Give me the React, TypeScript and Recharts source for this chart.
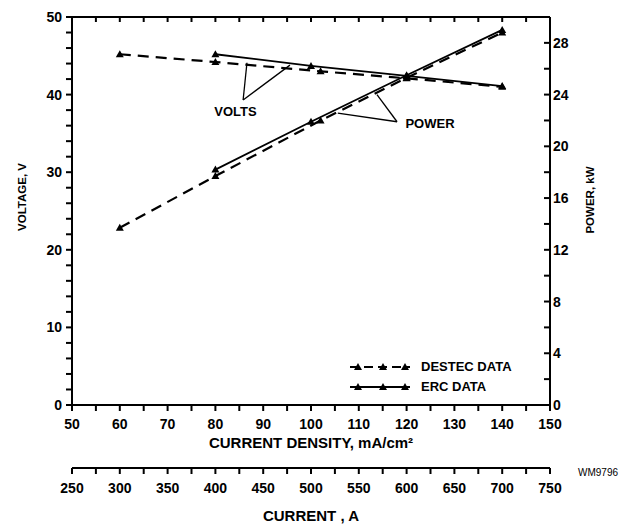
import { LineChart, Line, XAxis, YAxis, ReferenceLine, ReferenceDot, Legend } from "recharts";

const FONT = "'Liberation Sans', Arial, sans-serif";

// axis ticks
const densityTicks = [50, 55, 60, 65, 70, 75, 80, 85, 90, 95, 100, 105, 110, 115, 120, 125, 130, 135, 140, 145, 150];
const densityLabels = [50, 60, 70, 80, 90, 100, 110, 120, 130, 140, 150];
const currentTicks = [250, 275, 300, 325, 350, 375, 400, 425, 450, 475, 500, 525, 550, 575, 600, 625, 650, 675, 700, 725, 750];
const currentLabels = [250, 300, 350, 400, 450, 500, 550, 600, 650, 700, 750];
const voltTicks = [0, 2, 4, 6, 8, 10, 12, 14, 16, 18, 20, 22, 24, 26, 28, 30, 32, 34, 36, 38, 40, 42, 44, 46, 48, 50];
const voltLabels = [0, 10, 20, 30, 40, 50];
const powerTicks = [0, 2, 4, 6, 8, 10, 12, 14, 16, 18, 20, 22, 24, 26, 28];
const powerLabels = [0, 4, 8, 12, 16, 20, 24, 28];

// series (x = current density mA/cm2)
const destecVolts = [
  { x: 60, y: 45.2 },
  { x: 80, y: 44.2 },
  { x: 102, y: 43.0 },
  { x: 120, y: 42.1 },
  { x: 140, y: 41.0 },
];
const ercVolts = [
  { x: 80, y: 45.2 },
  { x: 100, y: 43.7 },
  { x: 120, y: 42.4 },
  { x: 140, y: 41.1 },
];
const destecPower = [
  { x: 60, y: 13.7 },
  { x: 80, y: 17.7 },
  { x: 102, y: 22.0 },
  { x: 120, y: 25.3 },
  { x: 140, y: 28.8 },
];
const ercPower = [
  { x: 80, y: 18.2 },
  { x: 100, y: 21.9 },
  { x: 120, y: 25.5 },
  { x: 140, y: 29.0 },
];

// annotation leaders, in density / volts units
const voltsNote = { x: 84.2, y: 37.9, text: "VOLTS" };
const voltsLeaders = [
  [{ x: 85.8, y: 39.3 }, { x: 86.6, y: 44.1 }],
  [{ x: 85.8, y: 39.3 }, { x: 95.6, y: 43.8 }],
];
const powerNote = { x: 124.9, y: 36.3, text: "POWER" };
const powerLeaders = [
  [{ x: 118.0, y: 36.5 }, { x: 105.6, y: 37.6 }],
  [{ x: 118.0, y: 36.5 }, { x: 113.8, y: 40.0 }],
];

const legendItems = [
  { name: "DESTEC DATA", dash: "9 5" },
  { name: "ERC DATA", dash: undefined },
];

const tri = (cx: number, cy: number) =>
  `M${cx},${cy - 4} L${cx + 4},${cy + 3} L${cx - 4},${cy + 3} Z`;

const Triangle = (props: any) => {
  const { cx, cy } = props;
  if (cx == null || cy == null) return null;
  return <path d={tri(cx, cy)} fill="#000" />;
};

const only = (list: number[]) => (v: number) => (list.includes(v) ? String(v) : "");

// inward tick marks on the top edge, drawn by the axis tick renderer
const TopTick = (props: any) => {
  const { x, y } = props;
  return <line x1={x} x2={x} y1={y} y2={y + 5} stroke="#000" strokeWidth={2} />;
};
// right edge: inward mark plus label outside
const RightTick = (props: any) => {
  const { x, y, payload } = props;
  const show = powerLabels.includes(payload.value);
  return (
    <g>
      <line x1={x} x2={x - 6} y1={y} y2={y} stroke="#000" strokeWidth={2} />
      {show && (
        <text x={x + 3} y={y} dy="0.355em" textAnchor="start" fontSize={14} fontWeight="bold" fill="#000" fontFamily={FONT}>
          {payload.value}
        </text>
      )}
    </g>
  );
};

const tickStyle = { fontSize: 14, fontWeight: "bold", fill: "#000", fontFamily: FONT };
const axisStroke = { stroke: "#000", strokeWidth: 2 };
const tickStroke = { stroke: "#000", strokeWidth: 2 };
const titleStyle = { fill: "#000", fontFamily: FONT, fontWeight: "bold" };

const LegendBox = () => (
  <div style={{ fontFamily: FONT, fontSize: 13, fontWeight: "bold", color: "#000" }}>
    {legendItems.map((item) => (
      <div key={item.name} style={{ display: "flex", alignItems: "center", height: 20 }}>
        <svg width={64} height={12}>
          <line x1={2} y1={7} x2={62} y2={7} stroke="#000" strokeWidth={2} strokeDasharray={item.dash} />
          {[10, 35, 57].map((m) => (
            <path key={m} d={tri(m, 7)} fill="#000" />
          ))}
        </svg>
        <span style={{ marginLeft: 9 }}>{item.name}</span>
      </div>
    ))}
  </div>
);

export default function App() {
  return (
    <div style={{ position: "absolute", left: 0, top: 0, width: 631, height: 525, background: "#fff" }}>
      <LineChart width={631} height={525} margin={{ top: 0, right: 21, bottom: 0, left: 0 }}>
        <XAxis
          xAxisId="axisA"
          type="number"
          dataKey="x"
          domain={[50, 150]}
          ticks={densityTicks}
          tickFormatter={only(densityLabels)}
          interval={0}
          height={63}
          tickSize={6}
          tickMargin={8}
          tick={tickStyle}
          axisLine={axisStroke}
          tickLine={tickStroke}
          label={{ value: "CURRENT DENSITY, mA/cm²", position: "insideBottom", offset: 20, fontSize: 15, ...titleStyle }}
        />
        <XAxis
          xAxisId="axisB"
          type="number"
          dataKey="x"
          domain={[250, 750]}
          allowDataOverflow
          ticks={currentTicks}
          tickFormatter={only(currentLabels)}
          interval={0}
          height={57}
          tickSize={6}
          tickMargin={9}
          tick={tickStyle}
          axisLine={axisStroke}
          tickLine={tickStroke}
          label={{ value: "CURRENT , A", position: "insideBottom", offset: 4, fontSize: 15, ...titleStyle }}
        />
        <XAxis
          xAxisId="axisTop"
          orientation="top"
          type="number"
          dataKey="x"
          domain={[50, 150]}
          allowDataOverflow
          ticks={densityTicks}
          interval={0}
          height={17}
          tickSize={0}
          tickMargin={0}
          tick={<TopTick />}
          axisLine={axisStroke}
          tickLine={false}
        />
        <YAxis
          yAxisId="volts"
          type="number"
          domain={[0, 50]}
          ticks={voltTicks}
          tickFormatter={only(voltLabels)}
          interval={0}
          width={72}
          tickSize={6}
          tickMargin={4}
          tick={tickStyle}
          axisLine={axisStroke}
          tickLine={tickStroke}
          label={{ value: "VOLTAGE, V", angle: -90, position: "insideLeft", offset: 22, dy: -14, fontSize: 11.5, ...titleStyle, style: { textAnchor: "middle" } }}
        />
        <YAxis
          yAxisId="power"
          orientation="right"
          type="number"
          domain={[0, 30]}
          allowDataOverflow
          ticks={powerTicks}
          interval={0}
          width={60}
          tickSize={0}
          tickMargin={0}
          tick={<RightTick />}
          axisLine={axisStroke}
          tickLine={false}
          label={{ value: "POWER, kW", angle: -90, position: "insideRight", offset: 20, dy: -11, fontSize: 11.5, ...titleStyle, style: { textAnchor: "middle" } }}
        />

        {[...voltsLeaders, ...powerLeaders].map((seg, i) => (
          <ReferenceLine key={i} xAxisId="axisA" yAxisId="volts" segment={seg} stroke="#000" strokeWidth={1.3} />
        ))}
        {[voltsNote, powerNote].map((n) => (
          <ReferenceDot
            key={n.text}
            xAxisId="axisA"
            yAxisId="volts"
            x={n.x}
            y={n.y}
            r={1}
            fill="none"
            stroke="none"
            label={{ value: n.text, position: "center", fontSize: 13, ...titleStyle }}
          />
        ))}

        <Line xAxisId="axisA" yAxisId="volts" data={destecVolts} dataKey="y" type="linear" stroke="#000" strokeWidth={2.2} strokeDasharray="11 7" dot={<Triangle />} isAnimationActive={false} />
        <Line xAxisId="axisA" yAxisId="volts" data={ercVolts} dataKey="y" type="linear" stroke="#000" strokeWidth={1.8} dot={<Triangle />} isAnimationActive={false} />
        <Line xAxisId="axisA" yAxisId="power" data={destecPower} dataKey="y" type="linear" stroke="#000" strokeWidth={2.2} strokeDasharray="11 7" dot={<Triangle />} isAnimationActive={false} />
        <Line xAxisId="axisA" yAxisId="power" data={ercPower} dataKey="y" type="linear" stroke="#000" strokeWidth={1.8} dot={<Triangle />} isAnimationActive={false} />

        <Legend
          layout="vertical"
          align="center"
          verticalAlign="middle"
          content={() => <LegendBox />}
          wrapperStyle={{ left: 348, top: 356, width: 190 }}
        />
      </LineChart>
      <div style={{ position: "absolute", left: 578, top: 467, fontFamily: FONT, fontSize: 10, color: "#000" }}>WM9796</div>
    </div>
  );
}
